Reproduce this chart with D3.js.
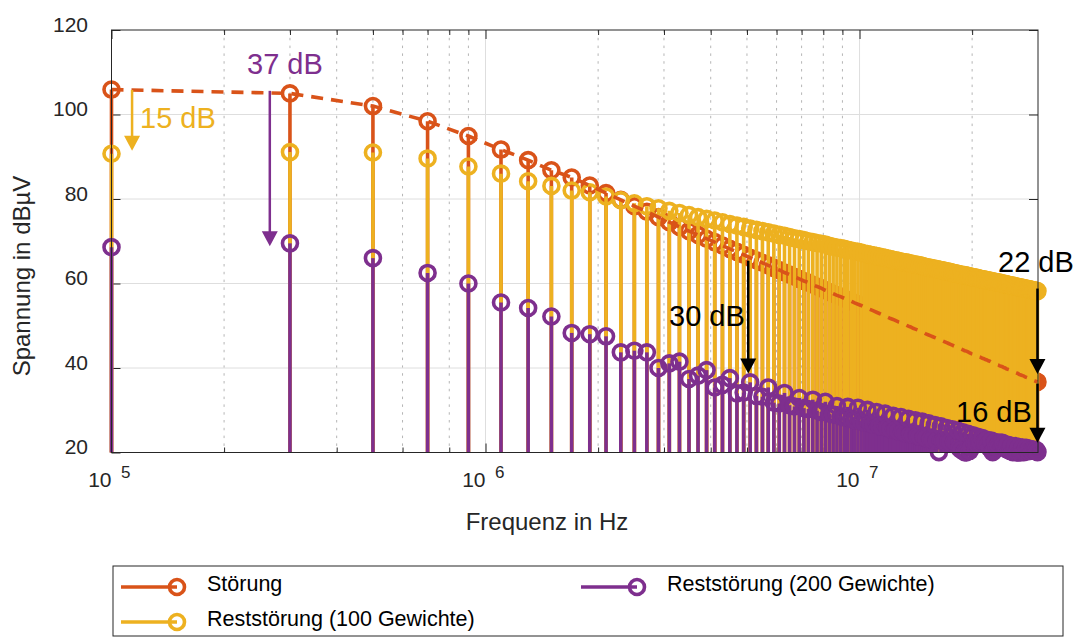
<!DOCTYPE html>
<html><head><meta charset="utf-8">
<script src="https://cdn.jsdelivr.net/npm/d3@7"></script>
<style>
body{margin:0;background:#fff}
svg{display:block}
text{font-family:"Liberation Sans",Arial,Helvetica,sans-serif}
</style>
</head><body>
<svg id="c" width="1075" height="639"></svg>
<script>
// ---------------- data ----------------
const fundamentalHz = 1e5;
const harmonicOrders = [
  1,3,5,7,9,11,13,15,17,19,
  21,23,25,27,29,31,33,35,37,39,
  41,43,45,47,49,51,53,55,57,59,
  61,63,65,67,69,71,73,75,77,79,
  81,83,85,87,89,91,93,95,97,99,
  101,103,105,107,109,111,113,115,117,119,
  121,123,125,127,129,131,133,135,137,139,
  141,143,145,147,149,151,153,155,157,159,
  161,163,165,167,169,171,173,175,177,179,
  181,183,185,187,189,191,193,195,197,199,
  201,203,205,207,209,211,213,215,217,219,
  221,223,225,227,229,231,233,235,237,239,
  241,243,245,247,249,251,253,255,257,259,
  261,263,265,267,269,271,273,275,277,279,
  281,283,285,287,289,291,293,295,297,299
];
const stoerung = [
  105.9,105.0,102.0,98.4,94.9,91.7,89.2,86.8,85.1,83.2,
  81.4,79.8,78.3,77.0,75.7,74.5,73.4,72.4,71.5,70.6,
  69.8,69.0,68.2,67.5,66.8,66.1,65.5,64.9,64.3,63.7,
  63.2,62.6,62.1,61.6,61.1,60.6,60.2,59.7,59.3,58.9,
  58.4,58.0,57.6,57.2,56.9,56.5,56.1,55.8,55.4,55.1,
  54.8,54.4,54.1,53.8,53.5,53.2,52.9,52.6,52.3,52.0,
  51.7,51.5,51.2,50.9,50.7,50.4,50.2,49.9,49.7,49.4,
  49.2,49.0,48.7,48.5,48.3,48.0,47.8,47.6,47.4,47.2,
  47.0,46.8,46.6,46.4,46.2,46.0,45.8,45.6,45.4,45.2,
  45.0,44.8,44.7,44.5,44.3,44.1,44.0,43.8,43.6,43.4,
  43.3,43.1,43.0,42.8,42.6,42.5,42.3,42.2,42.0,41.9,
  41.7,41.6,41.4,41.3,41.1,41.0,40.8,40.7,40.5,40.4,
  40.3,40.1,40.0,39.8,39.7,39.6,39.4,39.3,39.2,39.1,
  38.9,38.8,38.7,38.5,38.4,38.3,38.2,38.1,37.9,37.8,
  37.7,37.6,37.5,37.3,37.2,37.1,37.0,36.9,36.8,36.7
];
const rest100 = [
  90.7,91.1,91.0,89.6,87.7,86.0,84.2,83.1,82.0,81.6,
  80.6,79.7,79.0,78.3,77.8,77.2,76.7,76.2,75.7,75.3,
  74.9,74.5,74.1,73.7,73.4,73.0,72.7,72.4,72.1,71.8,
  71.5,71.3,71.0,70.7,70.5,70.3,70.0,69.8,69.6,69.4,
  69.2,68.9,68.7,68.5,68.4,68.2,68.0,67.8,67.6,67.5,
  67.3,67.1,67.0,66.8,66.7,66.5,66.4,66.2,66.1,65.9,
  65.8,65.6,65.5,65.4,65.2,65.1,65.0,64.9,64.7,64.6,
  64.5,64.4,64.3,64.2,64.0,63.9,63.8,63.7,63.6,63.5,
  63.4,63.3,63.2,63.1,63.0,62.9,62.8,62.7,62.6,62.5,
  62.4,62.3,62.2,62.1,62.0,62.0,61.9,61.8,61.7,61.6,
  61.5,61.4,61.4,61.3,61.2,61.1,61.0,61.0,60.9,60.8,
  60.7,60.7,60.6,60.5,60.4,60.4,60.3,60.2,60.2,60.1,
  60.0,59.9,59.9,59.8,59.7,59.7,59.6,59.5,59.5,59.4,
  59.3,59.3,59.2,59.1,59.1,59.0,59.0,58.9,58.8,58.8,
  58.7,58.7,58.6,58.5,58.5,58.4,58.4,58.3,58.3,58.2
];
const rest200 = [
  68.6,69.5,66.0,62.5,60.0,55.5,54.2,52.2,48.3,48.0,
  47.5,43.7,44.1,43.7,40.0,41.1,41.5,37.4,38.2,39.5,
  35.4,36.0,37.6,34.0,34.2,36.6,33.4,33.2,35.4,31.8,
  31.6,34.1,31.2,30.9,32.9,30.5,30.3,32.5,29.9,29.6,
  32.0,29.2,29.0,31.0,28.5,28.3,30.8,27.9,27.7,30.6,
  27.3,27.1,30.1,26.8,26.6,29.6,26.3,26.1,29.2,25.8,
  25.6,28.7,25.3,25.1,28.4,24.8,24.6,28.0,24.3,24.2,
  27.6,23.9,23.8,27.3,23.6,23.4,26.9,23.2,23.0,26.5,
  22.8,20.1,26.2,22.8,22.7,25.8,22.6,22.5,25.5,22.5,
  22.4,25.2,21.0,20.6,24.8,20.1,20.0,24.4,20.4,21.2,
  24.1,22.4,22.3,23.7,22.3,22.3,23.4,22.3,22.3,23.0,
  21.8,21.0,22.8,20.1,20.5,22.5,21.2,21.8,22.3,22.3,
  22.3,22.0,21.2,20.8,21.8,20.5,20.4,21.6,20.1,20.2,
  21.5,20.0,20.1,21.3,20.0,20.3,21.2,20.1,20.3,21.1,
  20.4,20.3,20.9,20.5,20.4,20.7,20.6,20.4,20.6,20.1
];
const seriesNames = ["Störung", "Reststörung (100 Gewichte)", "Reststörung (200 Gewichte)"];
const yTickValues = [20, 40, 60, 80, 100, 120];
const xDecades = [1e5, 1e6, 1e7];
const xDecadeExponents = ["5", "6", "7"];
const xDomain = [1e5, 3e7];
const yDomain = [20, 120];
// annotation arrows: [frequency, from dB, to dB]
const arrowLabels = ["37 dB", "15 dB", "30 dB", "22 dB", "16 dB"];
const arrowFreq = [2.65e5, 1.135e5, 5.04e6, 2.99e7, 2.99e7];
const arrowFrom = [105.6, 105.8, 65.4, 58.8, 36.3];
const arrowTo   = [68.8, 91.4, 38.7, 38.6, 22.3];

// ---------------- drawing ----------------
const COL = {st:"#D95319", r100:"#EDB120", r200:"#7E2F8E", ax:"#262626"};
const svg = d3.select("#c");
svg.append("rect").attr("width",1075).attr("height",639).attr("fill","#fff");
const M = {l:111.5, r:1038, t:30, b:452.5};
const x = d3.scaleLog().domain(xDomain).range([M.l, M.r]);
const y = d3.scaleLinear().domain(yDomain).range([M.b, M.t]);
const freqs = harmonicOrders.map(n => n * fundamentalHz);

// minor x values
const minorX = [];
xDecades.forEach(d => { for (let k = 2; k <= 9; k++) { const v = d * k; if (v < xDomain[1]) minorX.push(v); } });

// grid
const grid = svg.append("g");
grid.selectAll(".gmin").data(minorX).join("line")
  .attr("x1", d => x(d)).attr("x2", d => x(d)).attr("y1", M.t).attr("y2", M.b)
  .attr("stroke", "#b5b5b5").attr("stroke-width", 1).attr("stroke-dasharray", "2.5,5.3");
grid.selectAll(".gmaj").data([1e6, 1e7]).join("line")
  .attr("x1", d => x(d)).attr("x2", d => x(d)).attr("y1", M.t).attr("y2", M.b)
  .attr("stroke", "#dedede").attr("stroke-width", 1);
grid.selectAll(".gy").data(yTickValues.slice(1, -1)).join("line")
  .attr("x1", M.l).attr("x2", M.r).attr("y1", d => y(d)).attr("y2", d => y(d))
  .attr("stroke", "#dedede").attr("stroke-width", 1);

// axes (ticks inside)
function styleAxis(g){ g.select(".domain").remove(); g.selectAll("line").attr("stroke", COL.ax); }
svg.append("g").attr("transform", `translate(0,${M.b})`)
  .call(d3.axisBottom(x).tickValues(xDecades).tickSize(-9).tickFormat("")).call(styleAxis);
svg.append("g").attr("transform", `translate(0,${M.b})`)
  .call(d3.axisBottom(x).tickValues(minorX).tickSize(-5).tickFormat("")).call(styleAxis);
svg.append("g").attr("transform", `translate(0,${M.t})`)
  .call(d3.axisTop(x).tickValues(xDecades).tickSize(-9).tickFormat("")).call(styleAxis);
svg.append("g").attr("transform", `translate(0,${M.t})`)
  .call(d3.axisTop(x).tickValues(minorX).tickSize(-5).tickFormat("")).call(styleAxis);
const yl = svg.append("g").attr("transform", `translate(${M.l},0)`)
  .call(d3.axisLeft(y).tickValues(yTickValues).tickSize(-9).tickPadding(23.5)).call(styleAxis);
yl.selectAll("text").attr("font-size", 21).attr("fill", COL.ax).attr("dy", "0.07em")
  .attr("font-family", '"Liberation Sans",Arial,sans-serif');
svg.append("g").attr("transform", `translate(${M.r},0)`)
  .call(d3.axisRight(y).tickValues(yTickValues).tickSize(-9).tickFormat("")).call(styleAxis);

// x tick labels 10^n
const xl = svg.append("g");
xDecades.forEach((d, i) => {
  xl.append("text").attr("x", x(d)).attr("y", 487).attr("text-anchor", "end")
    .attr("font-size", 21).attr("fill", COL.ax).text("10");
  xl.append("text").attr("x", x(d) + 9.5).attr("y", 478).attr("text-anchor", "start")
    .attr("font-size", 17).attr("fill", COL.ax).text(xDecadeExponents[i]);
});

// axis titles
svg.append("text").attr("x", 547).attr("y", 530).attr("text-anchor", "middle")
  .attr("font-size", 24).attr("fill", COL.ax).text("Frequenz in Hz");
svg.append("text").attr("transform", "translate(30,276) rotate(-90)").attr("text-anchor", "middle")
  .attr("font-size", 24).attr("fill", COL.ax).text("Spannung in dBµV");

// series stems
const series = [
  {vals: stoerung, col: COL.st},
  {vals: rest100, col: COL.r100},
  {vals: rest200, col: COL.r200}
];
const SW = 3.6, R = 7.5;
series.forEach(s => {
  const g = svg.append("g");
  const pts = freqs.map((f, i) => ({f, v: s.vals[i]}));
  g.selectAll("line").data(pts).join("line")
    .attr("x1", d => x(d.f)).attr("x2", d => x(d.f))
    .attr("y1", y(yDomain[0])).attr("y2", d => y(Math.max(d.v, yDomain[0])))
    .attr("stroke", s.col).attr("stroke-width", SW);
  g.selectAll("circle").data(pts).join("circle")
    .attr("cx", d => x(d.f)).attr("cy", d => y(d.v)).attr("r", R)
    .attr("fill", "none").attr("stroke", s.col).attr("stroke-width", SW);
});

// dashed envelope of Störung
svg.append("path")
  .datum(freqs.map((f, i) => [f, stoerung[i]]))
  .attr("d", d3.line().x(d => x(d[0])).y(d => y(d[1])))
  .attr("fill", "none").attr("stroke", COL.st).attr("stroke-width", 3.6)
  .attr("stroke-dasharray", "12,8");

// box
svg.append("rect").attr("x", M.l).attr("y", M.t).attr("width", M.r - M.l).attr("height", M.b - M.t)
  .attr("fill", "none").attr("stroke", COL.ax).attr("stroke-width", 1);

// annotations
const arrowColors = [COL.r200, COL.r100, "#000", "#000", "#000"];
const labelPos = [[247, 74], [140, 128], [669, 326], [998, 272], [956, 422]];
arrowLabels.forEach((lab, i) => {
  const ax = x(arrowFreq[i]), y1 = y(arrowFrom[i]), y2 = y(arrowTo[i]);
  const c = arrowColors[i];
  svg.append("line").attr("x1", ax).attr("x2", ax).attr("y1", y1).attr("y2", y2 - 12)
    .attr("stroke", c).attr("stroke-width", 2.5);
  svg.append("path").attr("d", `M${ax - 8},${y2 - 15} L${ax + 8},${y2 - 15} L${ax},${y2} Z`).attr("fill", c);
  svg.append("text").attr("x", labelPos[i][0]).attr("y", labelPos[i][1])
    .attr("font-size", 29).attr("fill", c).text(lab);
});

// legend
const lg = svg.append("g");
lg.append("rect").attr("x", 113).attr("y", 566).attr("width", 950).attr("height", 70)
  .attr("fill", "#fff").attr("stroke", COL.ax).attr("stroke-width", 1);
const legendCols = [COL.st, COL.r100, COL.r200];
const legendPos = [[121, 587], [121, 622], [581, 587]];
seriesNames.forEach((nm, i) => {
  const [lx, ly] = legendPos[i];
  lg.append("line").attr("x1", lx).attr("x2", lx + 56).attr("y1", ly).attr("y2", ly)
    .attr("stroke", legendCols[i]).attr("stroke-width", SW);
  lg.append("circle").attr("cx", lx + 56).attr("cy", ly).attr("r", R)
    .attr("fill", "none").attr("stroke", legendCols[i]).attr("stroke-width", SW);
  lg.append("text").attr("x", lx + 86).attr("y", ly + 4).attr("font-size", 21.5)
    .attr("fill", "#000").text(nm);
});
</script>
</body></html>
